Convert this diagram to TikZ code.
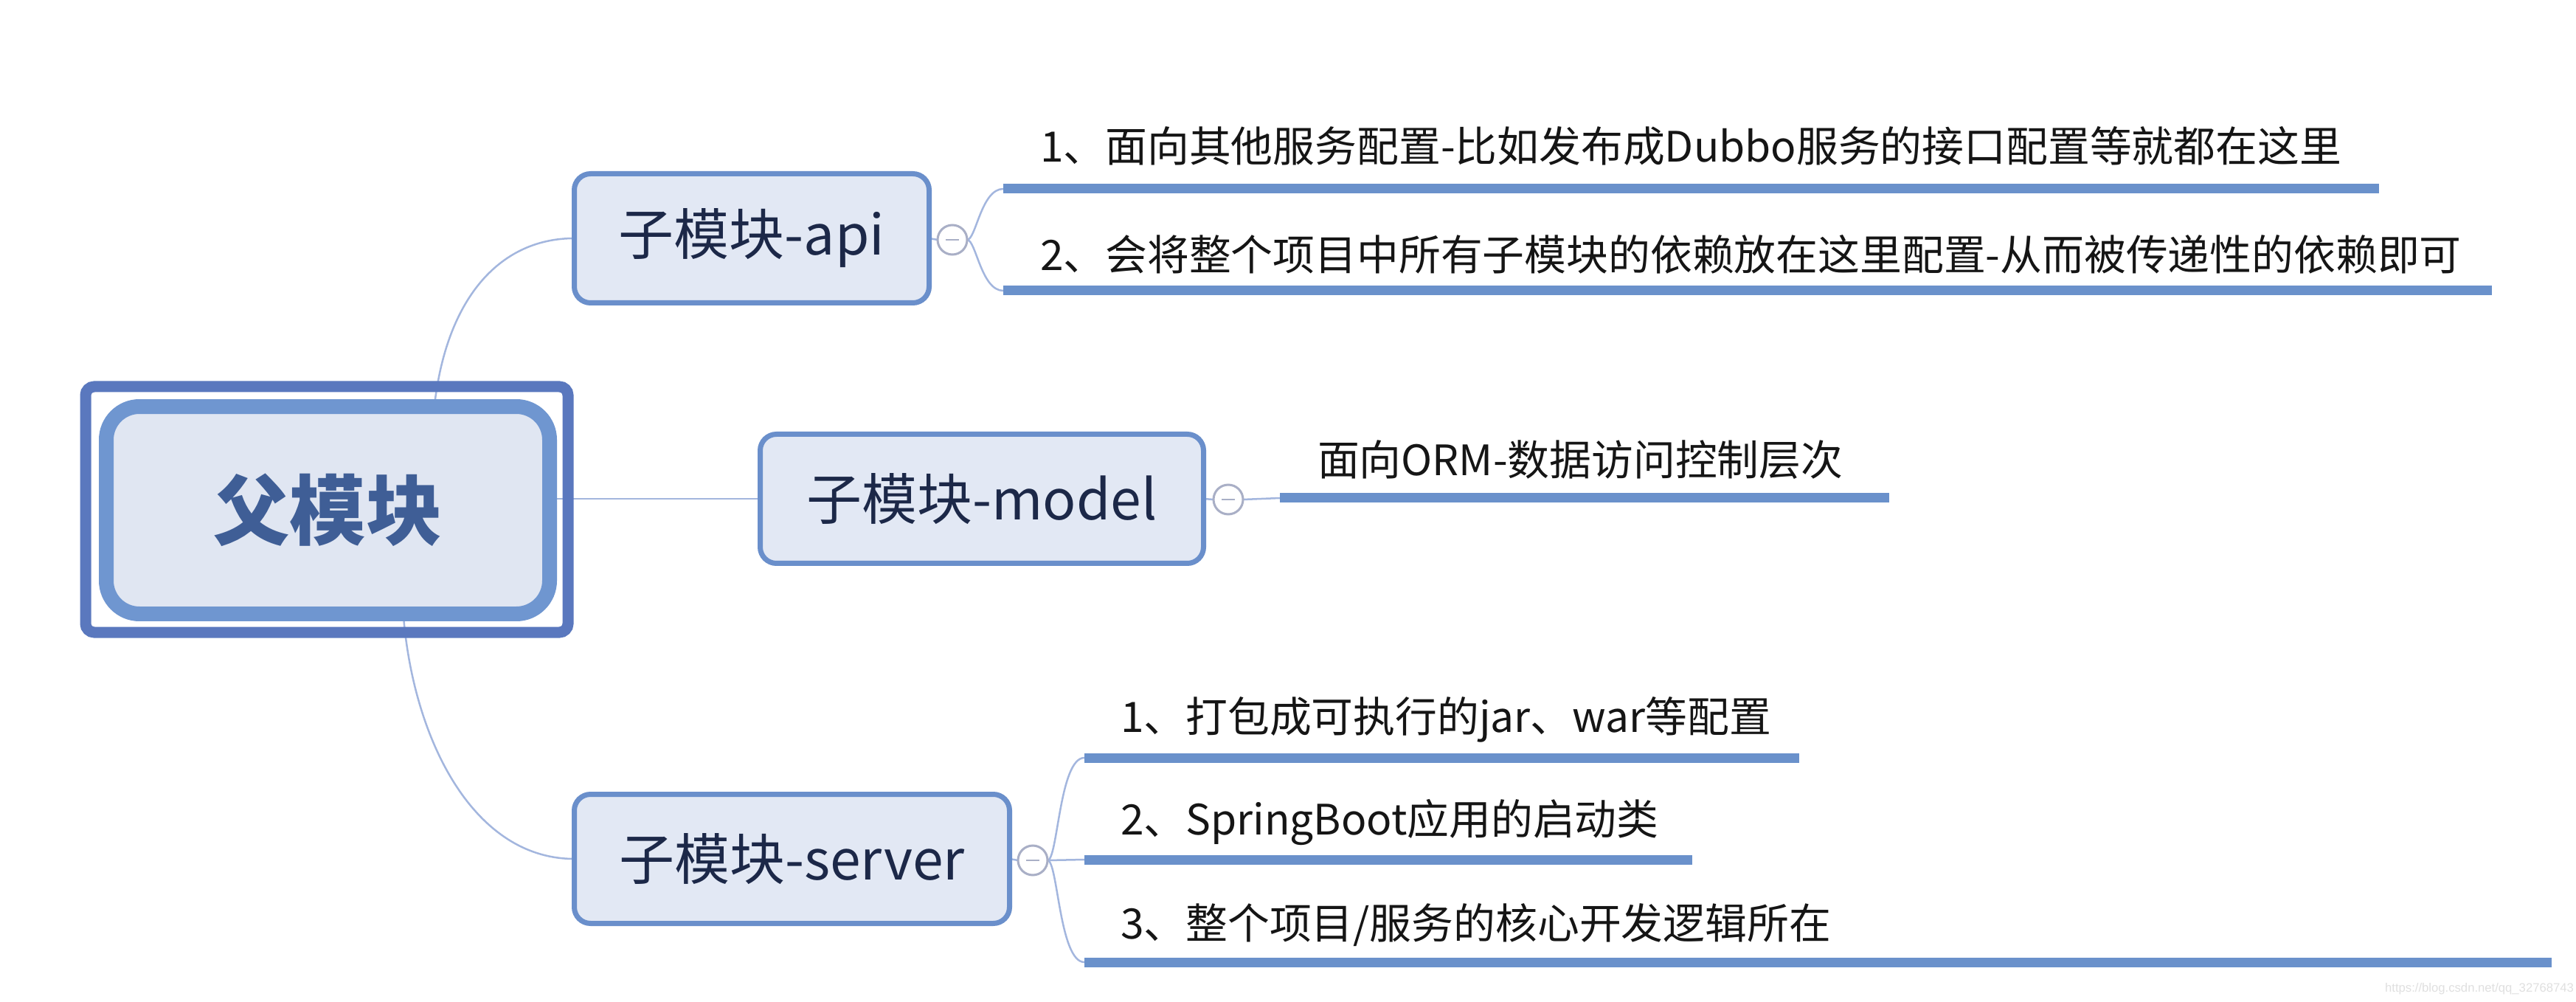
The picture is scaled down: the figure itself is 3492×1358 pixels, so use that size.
\documentclass[tikz,border=0pt]{standalone}
\usepackage{fontspec}
\setmainfont{Noto Sans CJK SC}
\newfontfamily\wmfont{Liberation Sans}
\usetikzlibrary{calc,backgrounds}
\definecolor{rootouter}{HTML}{5A78BE}
\definecolor{rootinner}{HTML}{6F96D0}
\definecolor{rootfill}{HTML}{E0E6F2}
\definecolor{roottext}{HTML}{3F5E96}
\definecolor{childborder}{HTML}{6A8FCB}
\definecolor{childfill}{HTML}{E2E8F4}
\definecolor{childtext}{HTML}{1C2848}
\definecolor{leafline}{HTML}{6A91CB}
\definecolor{leaftextc}{HTML}{151515}
\definecolor{connc}{HTML}{A3B6DE}
\definecolor{collc}{HTML}{A9AFC6}
\begin{document}
\begin{tikzpicture}[x=0.3pt,y=-0.3pt,
  rootbox/.style={rectangle, rounded corners=13.5pt, draw=rootinner, line width=6pt, fill=rootfill,
    minimum width=180.3pt, minimum height=84.3pt, inner sep=0pt, outer sep=0pt, text=roottext,
    font=\fontsize{31}{31}\selectfont\bfseries},
  rootframe/.style={draw=rootouter, line width=4.5pt, rounded corners=3.5pt},
  childbox/.style={rectangle, rounded corners=6.6pt, draw=childborder, line width=2.1pt, fill=childfill,
    minimum height=52.5pt, inner sep=0pt, outer sep=0pt, text=childtext,
    font=\fontsize{22.5}{22.5}\selectfont},
  collapse/.style={circle, draw=collc, line width=0.9pt, fill=white, minimum size=12pt, inner sep=0pt, outer sep=0pt,
    path picture={\draw[collc, line width=0.7pt] ([xshift=-2.6pt]path picture bounding box.center) -- ([xshift=2.6pt]path picture bounding box.center);}},
  leaftext/.style={anchor=west, inner sep=0pt, outer sep=0pt, text=leaftextc, font=\fontsize{17.05}{17.05}\selectfont},
  leafrule/.style={draw=leafline, line width=3.9pt},
  conn/.style={draw=connc, line width=0.75pt},
  wm/.style={inner sep=0pt, text=black!12, font=\wmfont\fontsize{5}{5}\selectfont}
]
\useasboundingbox (0,0) rectangle (3492,1358);

% root
\node[rootbox] (root) at (444.5,691.5) {父模块};
\draw[rootframe] ($(root.north west)+(-28,-27)$) rectangle ($(root.south east)+(25,25)$);

% children
\node[childbox, minimum width=144.3pt] (api) at (1019,323) {子模块-api};
\node[childbox, minimum width=180.3pt] (model) at (1331,676) {子模块-model};
\node[childbox, minimum width=177pt] (server) at (1073.5,1164) {子模块-server};

% collapse markers
\node[collapse] (capi) at (1291,325) {};
\node[collapse] (cmodel) at (1665,677) {};
\node[collapse] (cserver) at (1400,1166) {};

% leaf texts
\node[leaftext] (a1) at (1410,198) {1、面向其他服务配置-比如发布成Dubbo服务的接口配置等就都在这里};
\node[leaftext] (a2) at (1410,345) {2、会将整个项目中所有子模块的依赖放在这里配置-从而被传递性的依赖即可};
\node[leaftext] (m1) at (1786,623) {面向ORM-数据访问控制层次};
\node[leaftext] (s1) at (1519,975) {1、打包成可执行的jar、war等配置};
\node[leaftext] (s2) at (1519,1115) {2、SpringBoot应用的启动类};
\node[leaftext] (s3) at (1519,1254) {3、整个项目/服务的核心开发逻辑所在};

% leaf underline coordinates
\coordinate (a1s) at (1360,256); \coordinate (a1e) at (3225,256);
\coordinate (a2s) at (1360,394); \coordinate (a2e) at (3378,394);
\coordinate (m1s) at (1735,675); \coordinate (m1e) at (2561,675);
\coordinate (s1s) at (1470,1027); \coordinate (s1e) at (2439,1027);
\coordinate (s2s) at (1470,1165); \coordinate (s2e) at (2294,1165);
\coordinate (s3s) at (1470,1304); \coordinate (s3e) at (3459,1304);

\draw[leafrule] (a1s) -- (a1e);
\draw[leafrule] (a2s) -- (a2e);
\draw[leafrule] (m1s) -- (m1e);
\draw[leafrule] (s1s) -- (s1e);
\draw[leafrule] (s2s) -- (s2e);
\draw[leafrule] (s3s) -- (s3e);

\node[wm] (wmark) at (3361,1340) {https://blog.csdn.net/qq\_32768743};

\begin{pgfonlayer}{background}
  \fill[white] (0,0) rectangle (3492,1358);
  % root to children
  \draw[conn] ($(root.north west)!0.74!(root.north east)$) .. controls +(17,-151) and +(-98,0) .. (api.west);
  \draw[conn] (root.east |- model.west) -- (model.west);
  \draw[conn] ($(root.south west)!0.67!(root.south east)$) .. controls +(13,168) and +(-138,0) .. (server.west);
  % children to markers
  \draw[conn] (api.east) -- (capi.west);
  \draw[conn] (model.east) -- (cmodel.west);
  \draw[conn] (server.east) -- (cserver.west);
  % markers to leaves
  \draw[conn] (capi.east) .. controls +(12,0) and +(-30,0) .. (a1s);
  \draw[conn] (capi.east) .. controls +(12,0) and +(-30,0) .. (a2s);
  \draw[conn] (cmodel.east) -- (m1s);
  \draw[conn] (cserver.east) .. controls +(14,0) and +(-34,0) .. (s1s);
  \draw[conn] (cserver.east) -- (s2s);
  \draw[conn] (cserver.east) .. controls +(14,0) and +(-34,0) .. (s3s);
\end{pgfonlayer}
\end{tikzpicture}
\end{document}
